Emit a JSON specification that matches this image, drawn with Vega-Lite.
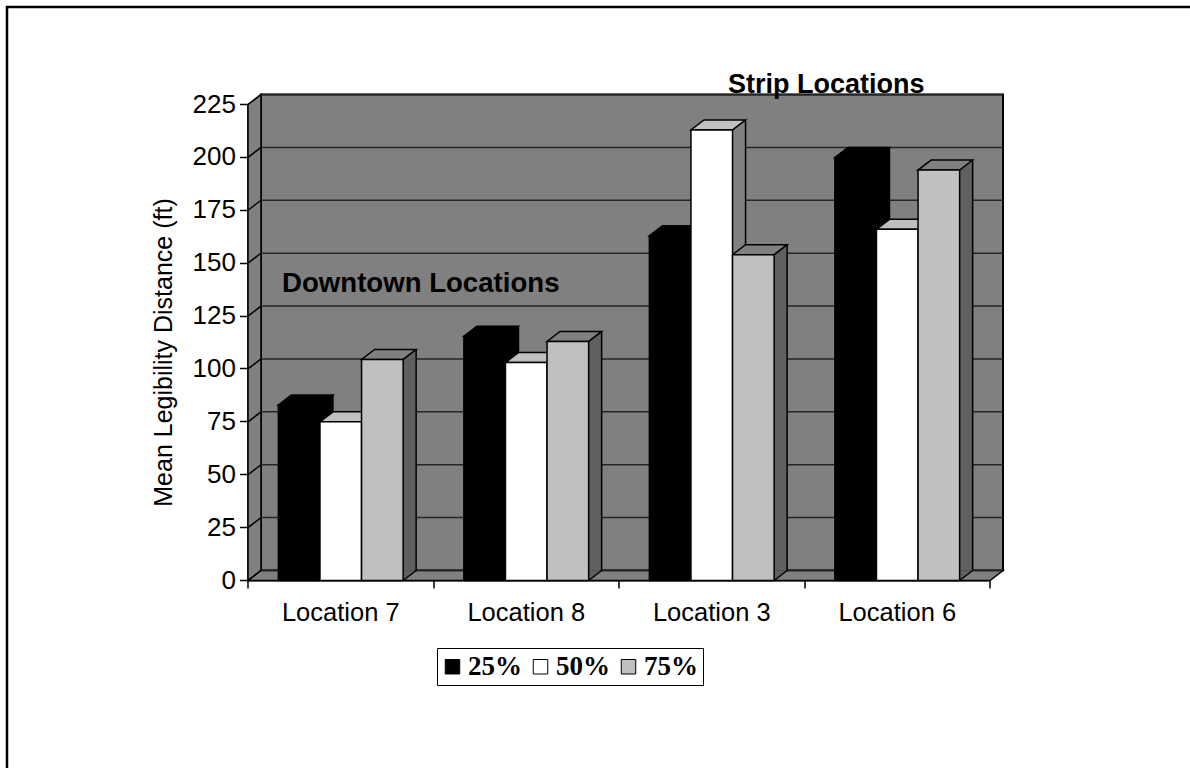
{
  "$schema": "https://vega.github.io/schema/vega-lite/v6.json",
  "width": 742,
  "height": 476,
  "autosize": {"type": "none"},
  "padding": {"left": 261, "top": 94.5, "right": 187, "bottom": 197.5},
  "background": "#ffffff",
  "view": {"fill": "#808080", "stroke": "#000000", "strokeWidth": 2},
  "datasets": {
    "bars": [
      {"location": "Location 7", "series": "25%", "value": 83},
      {"location": "Location 7", "series": "50%", "value": 75},
      {"location": "Location 7", "series": "75%", "value": 104.5},
      {"location": "Location 8", "series": "25%", "value": 115.5},
      {"location": "Location 8", "series": "50%", "value": 103},
      {"location": "Location 8", "series": "75%", "value": 113},
      {"location": "Location 3", "series": "25%", "value": 163},
      {"location": "Location 3", "series": "50%", "value": 213},
      {"location": "Location 3", "series": "75%", "value": 154},
      {"location": "Location 6", "series": "25%", "value": 200},
      {"location": "Location 6", "series": "50%", "value": 166},
      {"location": "Location 6", "series": "75%", "value": 194}
    ],
    "gridlines": [
      {"tick": 0}, {"tick": 25}, {"tick": 50}, {"tick": 75}, {"tick": 100},
      {"tick": 125}, {"tick": 150}, {"tick": 175}, {"tick": 200}, {"tick": 225}
    ],
    "annotations": [
      {"label": "Downtown Locations", "location": "Location 7", "level": 135.5},
      {"label": "Strip Locations", "location": "Location 6", "level": 229.5}
    ],
    "anchor": [{"location": "Location 7", "level": 0}]
  },
  "encoding": {
    "x": {
      "field": "location",
      "type": "nominal",
      "sort": ["Location 7", "Location 8", "Location 3", "Location 6"],
      "scale": {"domain": ["Location 7", "Location 8", "Location 3", "Location 6"], "paddingInner": 0, "paddingOuter": 0},
      "axis": {
        "title": null,
        "labelAngle": 0,
        "labelFont": "Liberation Sans",
        "labelFontSize": 25.5,
        "labelColor": "#000000",
        "labelPadding": 12,
        "tickBand": "extent",
        "tickColor": "#000000",
        "tickSize": 8,
        "tickWidth": 1.5,
        "domainColor": "#000000",
        "domainWidth": 2,
        "translate": -13,
        "offset": 23,
        "grid": false
      }
    }
  },
  "layer": [
    {
      "description": "Side wall of the box",
      "data": {"name": "anchor"},
      "mark": {"type": "point", "filled": true, "fill": "#808080", "stroke": "#000000", "strokeWidth": 1.5, "opacity": 1, "size": 4,
        "shape": "M-92.75 0L-105.75 10L-105.75 -466L-92.75 -476Z"},
      "encoding": {
        "y": {"field": "level", "type": "quantitative", "scale": {"domain": [0, 225], "nice": false},
          "axis": {
            "title": "Mean Legibility Distance (ft)",
            "titleFont": "Liberation Sans",
            "titleFontSize": 25,
            "titleFontWeight": "normal",
            "titleColor": "#000000",
            "titlePadding": 16,
            "titleY": 248,
            "values": [0, 25, 50, 75, 100, 125, 150, 175, 200, 225],
            "labelFont": "Liberation Sans",
            "labelFontSize": 26,
            "labelColor": "#000000",
            "labelPadding": 4,
            "tickColor": "#000000",
            "tickSize": 8,
            "tickWidth": 1.5,
            "domainColor": "#000000",
            "domainWidth": 1.5,
            "translate": 10,
            "offset": 23,
            "grid": false
          }
        }
      }
    },
    {
      "description": "Floor of the box",
      "data": {"name": "anchor"},
      "mark": {"type": "point", "filled": true, "fill": "#808080", "stroke": "#000000", "strokeWidth": 1.5, "opacity": 1, "size": 4,
        "shape": "M-92.75 0L-105.75 10L636.25 10L649.25 0Z"},
      "encoding": {"y": {"field": "level", "type": "quantitative"}}
    },
    {
      "description": "Gridlines across the back wall",
      "data": {"name": "gridlines"},
      "mark": {"type": "rule", "stroke": "#262626", "strokeWidth": 1.5},
      "encoding": {"x": null, "y": {"field": "tick", "type": "quantitative"}}
    },
    {
      "description": "Gridlines continuing down the side wall",
      "data": {"name": "gridlines"},
      "mark": {"type": "point", "filled": false, "stroke": "#000000", "strokeWidth": 1.5, "opacity": 1, "size": 4,
        "shape": "M-92.75 0L-105.75 10"},
      "encoding": {"x": {"datum": "Location 7"}, "y": {"field": "tick", "type": "quantitative"}}
    },
    {
      "description": "Right-hand faces of the columns",
      "data": {"name": "bars"},
      "mark": {"type": "bar"},
      "encoding": {
        "xOffset": {"field": "series", "type": "nominal", "scale": {"paddingInner": 0, "paddingOuter": 0.73}},
        "y": {"field": "value", "type": "quantitative"},
        "fill": {"field": "series", "type": "nominal", "legend": null,
          "scale": {"domain": ["25%", "50%", "75%"], "range": ["#000000", "#808080", "#606060"]}}
      }
    },
    {
      "description": "Lower corner of each right-hand face",
      "data": {"name": "bars"},
      "mark": {"type": "point", "filled": true, "opacity": 1, "size": 4, "strokeWidth": 0,
        "shape": "M7.8 10L20.8 0L7.8 0Z"},
      "encoding": {
        "xOffset": {"field": "series", "type": "nominal", "scale": {"type": "band", "paddingInner": 0, "paddingOuter": 0.73}},
        "y": {"datum": 0},
        "fill": {"field": "series", "type": "nominal", "legend": null,
          "scale": {"domain": ["25%", "50%", "75%"], "range": ["#000000", "#808080", "#606060"]}}
      }
    },
    {
      "description": "Lower diagonal edge of each right-hand face",
      "data": {"name": "bars"},
      "mark": {"type": "point", "filled": false, "stroke": "#000000", "strokeWidth": 1.5, "opacity": 1, "size": 4,
        "shape": "M7.8 10L20.8 0"},
      "encoding": {
        "xOffset": {"field": "series", "type": "nominal", "scale": {"type": "band", "paddingInner": 0, "paddingOuter": 0.73}},
        "y": {"datum": 0}
      }
    },
    {
      "description": "Back-right vertical edge of each column",
      "data": {"name": "bars"},
      "mark": {"type": "rule", "stroke": "#000000", "strokeWidth": 1.5},
      "encoding": {
        "xOffset": {"field": "series", "type": "nominal", "scale": {"type": "band", "range": [20.8, 206.3], "paddingInner": 0, "paddingOuter": 0.73}},
        "y": {"field": "value", "type": "quantitative"},
        "y2": {"datum": 0}
      }
    },
    {
      "description": "Top faces of the columns",
      "data": {"name": "bars"},
      "mark": {"type": "point", "filled": true, "stroke": "#000000", "strokeWidth": 1.5, "opacity": 1, "size": 4,
        "shape": "M-33.8 10L7.8 10L20.8 0L-20.8 0Z"},
      "encoding": {
        "xOffset": {"field": "series", "type": "nominal", "scale": {"type": "band", "paddingInner": 0, "paddingOuter": 0.73}},
        "y": {"field": "value", "type": "quantitative"},
        "fill": {"field": "series", "type": "nominal", "legend": null,
          "scale": {"domain": ["25%", "50%", "75%"], "range": ["#000000", "#c0c0c0", "#808080"]}}
      }
    },
    {
      "description": "Front faces of the columns",
      "data": {"name": "bars"},
      "mark": {"type": "bar", "stroke": "#000000", "strokeWidth": 1.5, "yOffset": 10},
      "encoding": {
        "xOffset": {"field": "series", "type": "nominal", "scale": {"range": [-13, 172.5], "paddingInner": 0, "paddingOuter": 0.73}},
        "y": {"field": "value", "type": "quantitative"},
        "fill": {"field": "series", "type": "nominal",
          "scale": {"domain": ["25%", "50%", "75%"], "range": ["#000000", "#ffffff", "#c0c0c0"]},
          "legend": {
            "title": null,
            "orient": "none",
            "legendX": 176,
            "legendY": 553.5,
            "direction": "horizontal",
            "columns": 3,
            "symbolType": "square",
            "symbolSize": 210,
            "symbolOffset": -3,
            "symbolStrokeColor": "#000000",
            "symbolStrokeWidth": 1,
            "labelFont": "Liberation Serif",
            "labelFontSize": 27,
            "labelFontWeight": "bold",
            "labelColor": "#000000",
            "labelOffset": 2,
            "columnPadding": 8,
            "fillColor": "#ffffff",
            "strokeColor": "#000000",
            "padding": 5
          }
        }
      }
    },
    {
      "description": "Caption over the first two groups",
      "data": {"name": "annotations"},
      "transform": [{"filter": "datum.location === 'Location 7'"}],
      "mark": {"type": "text", "font": "Liberation Sans", "fontSize": 27.6, "fontWeight": "bold", "fill": "#000000", "align": "center", "baseline": "middle", "dx": 67},
      "encoding": {
        "y": {"field": "level", "type": "quantitative"},
        "text": {"field": "label", "type": "nominal"}
      }
    },
    {
      "description": "Caption over the last two groups",
      "data": {"name": "annotations"},
      "transform": [{"filter": "datum.location === 'Location 6'"}],
      "mark": {"type": "text", "font": "Liberation Sans", "fontSize": 27, "fontWeight": "bold", "fill": "#000000", "align": "center", "baseline": "middle", "dx": -84},
      "encoding": {
        "y": {"field": "level", "type": "quantitative"},
        "text": {"field": "label", "type": "nominal"}
      }
    },
    {
      "description": "Page frame along the top and left edges",
      "data": {"name": "anchor"},
      "mark": {"type": "point", "filled": false, "stroke": "#000000", "strokeWidth": 2.5, "opacity": 1, "size": 4,
        "shape": "M-346.75 198L-346.75 -563.5L836.25 -563.5"},
      "encoding": {"y": {"field": "level", "type": "quantitative"}}
    }
  ],
  "resolve": {"scale": {"fill": "independent", "xOffset": "independent"}}
}
